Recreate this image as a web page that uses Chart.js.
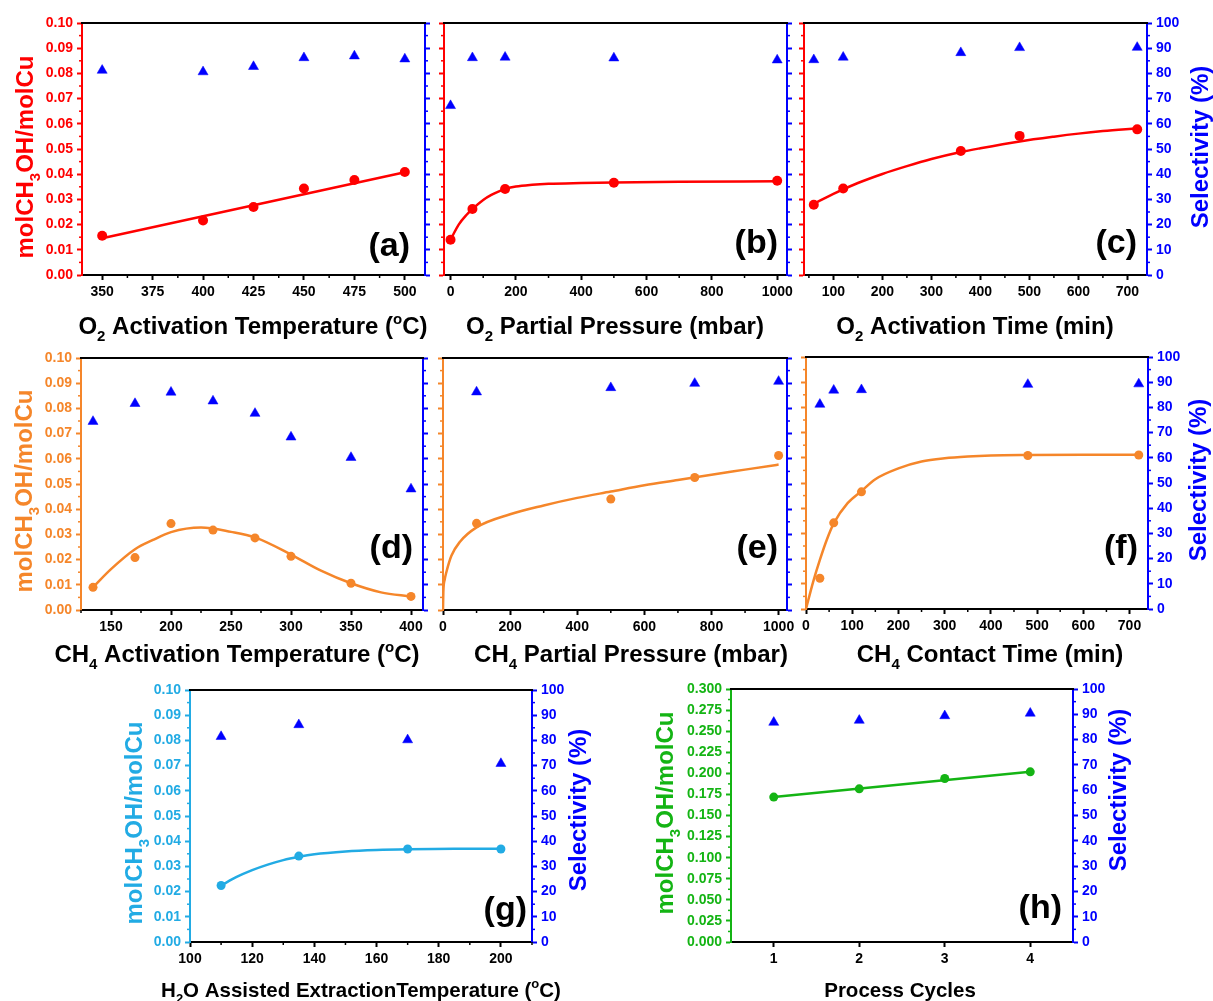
<!DOCTYPE html>
<html><head><meta charset="utf-8">
<script src="https://cdn.jsdelivr.net/npm/chart.js@4.4.0/dist/chart.umd.min.js"></script>
<style>
html,body{margin:0;padding:0;background:#fff;width:1213px;height:1001px;overflow:hidden;position:relative}
canvas{position:absolute}
</style></head><body>
<script>
// ---------- DATA ----------
// (a) O2 activation temperature
const aTemp  = [350, 400, 425, 450, 475, 500];
const aYield = [0.0156, 0.0216, 0.0270, 0.0343, 0.0377, 0.0409];
const aSel   = [81.2, 80.6, 82.7, 86.2, 86.9, 85.7];
const aFitX  = [350, 500];
const aFitY  = [0.0146, 0.0408];
// (b) O2 partial pressure
const bPress = [0, 67, 167, 500, 1000];
const bYield = [0.0140, 0.0262, 0.0341, 0.0366, 0.0374];
const bSel   = [67.2, 86.2, 86.4, 86.1, 85.3];
const bFitX  = [0, 25, 50, 67, 100, 125, 150, 167, 200, 250, 300, 400, 500, 700, 1000];
const bFitY  = [0.0140, 0.0200, 0.0240, 0.0262, 0.0298, 0.0318, 0.0333, 0.0341, 0.0351, 0.0358, 0.0362, 0.0365, 0.0367, 0.0370, 0.0372];
// (c) O2 activation time
const cTime  = [60, 120, 360, 480, 720];
const cYield = [0.0279, 0.0343, 0.0492, 0.0552, 0.0578];
const cSel   = [85.4, 86.4, 88.2, 90.2, 90.3];
const cFitX  = [60, 100, 150, 200, 250, 300, 360, 400, 480, 550, 600, 650, 720];
const cFitY  = [0.0283, 0.0322, 0.0365, 0.0401, 0.0432, 0.0460, 0.0488, 0.0503, 0.0530, 0.0549, 0.0561, 0.0571, 0.0582];
// (d) CH4 activation temperature
const dTemp  = [135, 170, 200, 235, 270, 300, 350, 400];
const dYield = [0.0090, 0.0208, 0.0343, 0.0317, 0.0286, 0.0213, 0.0106, 0.0054];
const dSel   = [74.8, 81.9, 86.4, 82.9, 78.0, 68.6, 60.5, 48.0];
const dFitX  = [135, 150, 170, 185, 200, 225, 250, 270, 300, 325, 350, 375, 400];
const dFitY  = [0.0090, 0.0162, 0.0241, 0.0278, 0.0309, 0.0327, 0.0310, 0.0288, 0.0220, 0.0156, 0.0106, 0.0070, 0.0054];
// (e) CH4 partial pressure
const ePress = [100, 500, 750, 1000];
const eYield = [0.0344, 0.0440, 0.0526, 0.0613];
const eSel   = [86.5, 88.2, 89.9, 90.7];
const eFitX  = [0, 1, 5, 10, 25, 50, 100, 200, 300, 400, 500, 600, 700, 800, 900, 1000];
const eFitY  = [0, 0.0070, 0.0120, 0.0150, 0.0215, 0.0270, 0.0328, 0.0380, 0.0415, 0.0445, 0.0470, 0.0495, 0.0516, 0.0537, 0.0557, 0.0577];
// (f) CH4 contact time
const fTime  = [30, 60, 120, 480, 720];
const fYield = [0.0122, 0.0342, 0.0465, 0.0609, 0.0611];
const fSel   = [81.2, 86.8, 87.0, 89.1, 89.3];
const fFitX  = [0, 15, 30, 45, 60, 90, 120, 150, 200, 250, 300, 350, 400, 480, 600, 720];
const fFitY  = [0, 0.0105, 0.0195, 0.0275, 0.0340, 0.0420, 0.0468, 0.0515, 0.0558, 0.0585, 0.0598, 0.0605, 0.0609, 0.0611, 0.0612, 0.0612];
// (g) H2O assisted extraction temperature
const gTemp  = [110, 135, 170, 200];
const gYield = [0.0224, 0.0341, 0.0369, 0.0369];
const gSel   = [81.5, 86.2, 80.2, 70.8];
const gFitX  = [110, 115, 120, 125, 130, 135, 140, 150, 160, 170, 185, 200];
const gFitY  = [0.0224, 0.0258, 0.0285, 0.0307, 0.0325, 0.0338, 0.0348, 0.0359, 0.0365, 0.0368, 0.0370, 0.0370];
// (h) process cycles
const hCycle = [1, 2, 3, 4];
const hYield = [0.1718, 0.1816, 0.1939, 0.2018];
const hSel   = [86.8, 87.6, 89.4, 90.4];
const hFitX  = [1, 4];
const hFitY  = [0.1720, 0.2020];

// tick values
const aXTicks = [350, 375, 400, 425, 450, 475, 500];
const bXTicks = [0, 200, 400, 600, 800, 1000];
const cXTicks = [100, 200, 300, 400, 500, 600, 700];
const dXTicks = [150, 200, 250, 300, 350, 400];
const eXTicks = [0, 200, 400, 600, 800, 1000];
const fXTicks = [0, 100, 200, 300, 400, 500, 600, 700];
const gXTicks = [100, 120, 140, 160, 180, 200];
const hXTicks = [1, 2, 3, 4];
const yieldTicks = [0, 0.01, 0.02, 0.03, 0.04, 0.05, 0.06, 0.07, 0.08, 0.09, 0.10];
const cycleYieldTicks = [0, 0.025, 0.05, 0.075, 0.1, 0.125, 0.15, 0.175, 0.2, 0.225, 0.25, 0.275, 0.3];
const selTicks = [0, 10, 20, 30, 40, 50, 60, 70, 80, 90, 100];

// text
const yieldTitle = 'molCH_3OH/molCu';
const selTitle = 'Selectivity (%)';
const xTitles = {
  a: 'O_2 Activation Temperature (^oC)',
  b: 'O_2 Partial Pressure (mbar)',
  c: 'O_2 Activation Time (min)',
  d: 'CH_4 Activation Temperature (^oC)',
  e: 'CH_4 Partial Pressure (mbar)',
  f: 'CH_4 Contact Time (min)',
  g: 'H_2O Assisted ExtractionTemperature (^oC)',
  h: 'Process Cycles'
};

// ---------- STYLE ----------
const FAM = '"Liberation Sans", Arial, Helvetica, sans-serif';
const RED = '#ff0000', ORANGE = '#f5862a', CYAN = '#22abe4', GREEN = '#14b414', BLUE = '#0000ff';

function parseRich(s) {
  const parts = []; let buf = '';
  for (let i = 0; i < s.length; i++) {
    const ch = s[i];
    if (ch === '_' || ch === '^') {
      if (buf) { parts.push([buf, '']); buf = ''; }
      parts.push([s[i + 1], ch === '_' ? 'sub' : 'sup']); i++;
    } else buf += ch;
  }
  if (buf) parts.push([buf, '']);
  return parts;
}
function drawRich(ctx, str, size, color, x, y, align, rot) {
  const parts = parseRich(str);
  const big = `bold ${size}px ${FAM}`, small = `bold ${Math.round(size * 0.62)}px ${FAM}`;
  let W = 0; const ws = [];
  parts.forEach(p => { ctx.font = p[1] ? small : big; const w = ctx.measureText(p[0]).width; ws.push(w); W += w; });
  ctx.save();
  ctx.translate(x, y);
  if (rot) ctx.rotate(-Math.PI / 2);
  ctx.fillStyle = color; ctx.textBaseline = 'alphabetic'; ctx.textAlign = 'left';
  let cur = align === 'right' ? -W : -W / 2;
  parts.forEach((p, i) => {
    ctx.font = p[1] ? small : big;
    const dy = p[1] === 'sub' ? size * 0.30 : p[1] === 'sup' ? -size * 0.42 : 0;
    ctx.fillText(p[0], cur, dy);
    cur += ws[i];
  });
  ctx.restore();
}
function minorOf(major, min, max) {
  if (major.length < 2) return [];
  const step = major[1] - major[0], out = [];
  for (let i = -1; i < major.length; i++) {
    const v = (i < 0 ? major[0] - step : major[i]) + step / 2;
    if (v >= min - 1e-9 && v <= max + 1e-9) out.push(v);
  }
  return out;
}

const decoPlugin = {
  id: 'deco',
  afterDraw(chart, args, o) {
    const ctx = chart.ctx, ca = chart.chartArea;
    ctx.save();
    // top frame
    ctx.strokeStyle = '#000'; ctx.lineWidth = 2;
    ctx.beginPath(); ctx.moveTo(ca.left - 1, ca.top); ctx.lineTo(ca.right + 1, ca.top); ctx.stroke();
    // minor ticks
    (o.minor || []).forEach(m => {
      const s = chart.scales[m.id];
      ctx.strokeStyle = m.color; ctx.lineWidth = 1.5;
      m.values.forEach(v => {
        const p = s.getPixelForValue(v);
        ctx.beginPath();
        if (m.id === 'x') { ctx.moveTo(p, ca.bottom); ctx.lineTo(p, ca.bottom + 3); }
        else if (m.id === 'y') { ctx.moveTo(ca.left, p); ctx.lineTo(ca.left - 3, p); }
        else { ctx.moveTo(ca.right, p); ctx.lineTo(ca.right + 3, p); }
        ctx.stroke();
      });
    });
    const ox = o.ox, oy = o.oy;
    // titles
    (o.texts || []).forEach(t => drawRich(ctx, t.s, t.size, t.color, t.x - ox, t.y - oy, t.align, t.rot));
    ctx.restore();
  }
};

function pairs(xs, ys) { return xs.map((x, i) => ({ x: x, y: ys[i] })); }

const panels = [
  { k: 'a', plot: [82, 23, 425, 275], col: RED, xr: [340, 510], xt: aXTicks, yMax: 0.10, yt: yieldTicks, dec: 2,
    X: aTemp, Y: aYield, S: aSel, FX: aFitX, FY: aFitY, r: 5, leftLab: true, rightLab: false,
    xTitle: { x: 253, y: 334, size: 24 }, yTitle: { x: 33, y: 157 }, letter: { x: 410, y: 256 } },
  { k: 'b', plot: [444, 23, 787, 275], col: RED, xr: [-20, 1030], xt: bXTicks, yMax: 0.10, yt: yieldTicks, dec: 2,
    X: bPress, Y: bYield, S: bSel, FX: bFitX, FY: bFitY, r: 5, leftLab: false, rightLab: false,
    xTitle: { x: 615, y: 334, size: 24 }, letter: { x: 778, y: 253 } },
  { k: 'c', plot: [804, 23, 1147, 275], col: RED, xr: [40, 740], xt: cXTicks, yMax: 0.10, yt: yieldTicks, dec: 2,
    X: cTime, Y: cYield, S: cSel, FX: cFitX, FY: cFitY, r: 5, leftLab: false, rightLab: true,
    xTitle: { x: 975, y: 334, size: 24 }, sTitle: { x: 1208, y: 147 }, letter: { x: 1137, y: 253 } },
  { k: 'd', plot: [81, 358, 423, 610], col: ORANGE, xr: [125, 410], xt: dXTicks, yMax: 0.10, yt: yieldTicks, dec: 2,
    X: dTemp, Y: dYield, S: dSel, FX: dFitX, FY: dFitY, r: 4.5, leftLab: true, rightLab: false,
    xTitle: { x: 237, y: 662, size: 24 }, yTitle: { x: 32, y: 491 }, letter: { x: 413, y: 558 } },
  { k: 'e', plot: [443, 358, 787, 610], col: ORANGE, xr: [0, 1025], xt: eXTicks, yMax: 0.10, yt: yieldTicks, dec: 2,
    X: ePress, Y: eYield, S: eSel, FX: eFitX, FY: eFitY, r: 4.5, leftLab: false, rightLab: false,
    xTitle: { x: 631, y: 662, size: 24 }, letter: { x: 778, y: 558 } },
  { k: 'f', plot: [806, 357, 1148, 609], col: ORANGE, xr: [0, 740], xt: fXTicks, yMax: 0.10, yt: yieldTicks, dec: 2,
    X: fTime, Y: fYield, S: fSel, FX: fFitX, FY: fFitY, r: 4.5, leftLab: false, rightLab: true,
    xTitle: { x: 990, y: 662, size: 24 }, sTitle: { x: 1206, y: 480 }, letter: { x: 1138, y: 558 } },
  { k: 'g', plot: [190, 690, 532, 942], col: CYAN, xr: [100, 210], xt: gXTicks, yMax: 0.10, yt: yieldTicks, dec: 2,
    X: gTemp, Y: gYield, S: gSel, FX: gFitX, FY: gFitY, r: 4.5, leftLab: true, rightLab: true,
    xTitle: { x: 361, y: 997, size: 20.5 }, yTitle: { x: 142, y: 823 }, sTitle: { x: 586, y: 810 }, letter: { x: 527, y: 920 } },
  { k: 'h', plot: [731, 689, 1073, 942], col: GREEN, xr: [0.5, 4.5], xt: hXTicks, yMax: 0.30, yt: cycleYieldTicks, dec: 3,
    X: hCycle, Y: hYield, S: hSel, FX: hFitX, FY: hFitY, r: 4.5, leftLab: true, rightLab: true, noXMinor: true,
    xTitle: { x: 900, y: 997, size: 20.5 }, yTitle: { x: 673, y: 813 }, sTitle: { x: 1126, y: 790 }, letter: { x: 1062, y: 918 } }
];

const M = { l: 95, r: 95, t: 25, b: 75 };
const tickFont = { family: FAM, size: 14, weight: 'bold' };

panels.forEach(p => {
  const [pl, pt, pr, pb] = p.plot;
  const W = pr - pl + M.l + M.r, H = pb - pt + M.t + M.b;
  const ox = pl - M.l, oy = pt - M.t;
  const cv = document.createElement('canvas');
  cv.width = W; cv.height = H;
  cv.style.left = ox + 'px'; cv.style.top = oy + 'px';
  cv.style.width = W + 'px'; cv.style.height = H + 'px';
  document.body.appendChild(cv);

  const texts = [];
  texts.push({ s: xTitles[p.k], size: p.xTitle.size, color: '#000', x: p.xTitle.x, y: p.xTitle.y, align: 'center', rot: false });
  if (p.yTitle) texts.push({ s: yieldTitle, size: 24, color: p.col, x: p.yTitle.x, y: p.yTitle.y, align: 'center', rot: true });
  if (p.sTitle) texts.push({ s: selTitle, size: 24, color: BLUE, x: p.sTitle.x, y: p.sTitle.y, align: 'center', rot: true });
  texts.push({ s: '(' + p.k + ')', size: 34, color: '#000', x: p.letter.x, y: p.letter.y, align: 'right', rot: false });

  const minor = [
    { id: 'y', color: p.col, values: minorOf(p.yt, 0, p.yMax) },
    { id: 'y2', color: BLUE, values: minorOf(selTicks, 0, 100) }
  ];
  if (!p.noXMinor) minor.push({ id: 'x', color: '#000', values: minorOf(p.xt, p.xr[0], p.xr[1]) });

  new Chart(cv, {
    type: 'scatter',
    data: {
      datasets: [
        { label: 'Selectivity (%)', data: pairs(p.X, p.S), yAxisID: 'y2', pointStyle: 'triangle',
          pointRadius: 5.8, backgroundColor: BLUE, borderColor: BLUE, borderWidth: 0.5, showLine: false },
        { label: 'molCH3OH/molCu', data: pairs(p.X, p.Y), yAxisID: 'y', pointStyle: 'circle',
          pointRadius: p.r, backgroundColor: p.col, borderColor: p.col, borderWidth: 0, showLine: false },
        { label: 'fit', data: pairs(p.FX, p.FY), yAxisID: 'y', showLine: true, pointRadius: 0,
          borderColor: p.col, borderWidth: 2.5, cubicInterpolationMode: 'monotone', fill: false }
      ]
    },
    options: {
      responsive: false, animation: false, events: [],
      layout: { padding: { top: M.t, left: 0, right: 0, bottom: 0 } },
      plugins: { legend: { display: false }, tooltip: { enabled: false },
        deco: { ox: ox, oy: oy, texts: texts, minor: minor } },
      scales: {
        x: {
          type: 'linear', position: 'bottom', min: p.xr[0], max: p.xr[1],
          afterBuildTicks: s => { s.ticks = p.xt.map(v => ({ value: v })); },
          afterFit: s => { s.height = M.b; },
          grid: { drawOnChartArea: false, drawTicks: true, tickLength: 5, tickColor: '#000', tickWidth: 2 },
          border: { color: '#000', width: 2 },
          ticks: { color: '#000', font: tickFont, padding: 4, autoSkip: false, maxRotation: 0,
            callback: v => String(v) }
        },
        y: {
          type: 'linear', position: 'left', min: 0, max: p.yMax,
          afterBuildTicks: s => { s.ticks = p.yt.map(v => ({ value: v })); },
          afterFit: s => { s.width = M.l; },
          grid: { drawOnChartArea: false, drawTicks: true, tickLength: 5, tickColor: p.col, tickWidth: 2 },
          border: { color: p.col, width: 2 },
          ticks: { color: p.col, font: tickFont, padding: 4, autoSkip: false,
            callback: v => p.leftLab ? Number(v).toFixed(p.dec) : '' }
        },
        y2: {
          type: 'linear', position: 'right', min: 0, max: 100,
          afterBuildTicks: s => { s.ticks = selTicks.map(v => ({ value: v })); },
          afterFit: s => { s.width = M.r; },
          grid: { drawOnChartArea: false, drawTicks: true, tickLength: 5, tickColor: BLUE, tickWidth: 2 },
          border: { color: BLUE, width: 2 },
          ticks: { color: BLUE, font: tickFont, padding: 4, autoSkip: false,
            callback: v => p.rightLab ? String(v) : '' }
        }
      }
    },
    plugins: [decoPlugin]
  });
});
</script>
</body></html>
